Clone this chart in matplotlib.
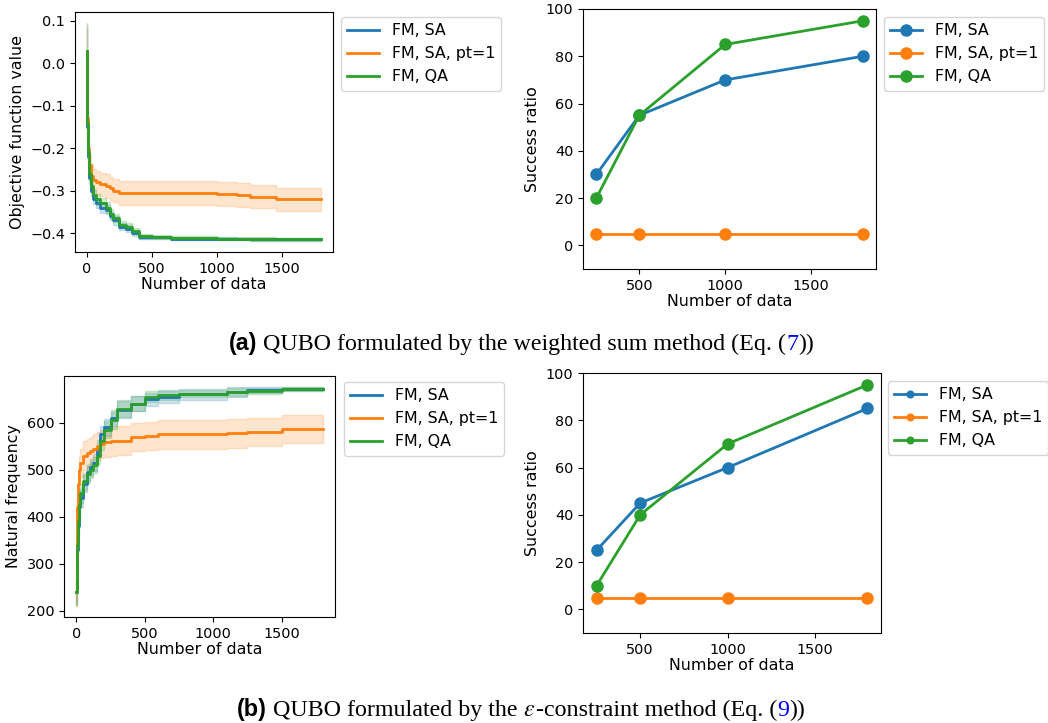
import matplotlib
matplotlib.use("Agg")
import matplotlib.pyplot as plt
import numpy as np

# ---- data ----
labels = ["FM, SA", "FM, SA, pt=1", "FM, QA"]
colors = ["#1f77b4", "#ff7f0e", "#2ca02c"]

# (a) objective function value vs number of data (step curves, mean and band half-width)
xa = [0, 5, 10, 20, 30, 50, 75, 100, 150, 175, 200, 250, 300, 350, 400, 500, 650, 1000, 1150, 1250, 1450, 1800]
obj_sa = [0.03, -0.15, -0.22, -0.27, -0.30, -0.32, -0.33, -0.34, -0.345, -0.36, -0.37, -0.385, -0.39,
          -0.40, -0.41, -0.41, -0.413, -0.413, -0.414, -0.415, -0.415, -0.415]
obj_pt = [0.03, -0.13, -0.20, -0.24, -0.265, -0.275, -0.28, -0.285, -0.29, -0.295, -0.30, -0.305, -0.305,
          -0.305, -0.305, -0.305, -0.305, -0.308, -0.31, -0.315, -0.32, -0.32]
obj_qa = [0.03, -0.14, -0.21, -0.26, -0.29, -0.31, -0.32, -0.33, -0.34, -0.355, -0.365, -0.38, -0.385,
          -0.395, -0.408, -0.41, -0.412, -0.413, -0.413, -0.414, -0.415, -0.415]
obj_sa_sd = [0.06, 0.03, 0.02, 0.015, 0.012, 0.012, 0.012, 0.012, 0.01, 0.01, 0.01, 0.008, 0.008,
             0.006, 0.005, 0.004, 0.004, 0.003, 0.003, 0.003, 0.003, 0.003]
obj_pt_sd = [0.05, 0.03, 0.025, 0.025, 0.027, 0.027, 0.027, 0.027, 0.028, 0.028, 0.028, 0.028, 0.028,
             0.028, 0.028, 0.028, 0.028, 0.028, 0.028, 0.027, 0.027, 0.027]
obj_qa_sd = [0.065, 0.03, 0.02, 0.015, 0.013, 0.013, 0.013, 0.012, 0.012, 0.011, 0.01, 0.009, 0.009,
             0.008, 0.006, 0.005, 0.005, 0.004, 0.004, 0.004, 0.004, 0.004]

# (b) natural frequency vs number of data
xb = [0, 5, 10, 20, 30, 50, 75, 100, 125, 150, 175, 200, 250, 300, 400, 500, 600, 750, 1100, 1250, 1500, 1800]
nf_sa = [240, 330, 380, 420, 440, 470, 495, 505, 515, 545, 575, 590, 610, 628, 640, 650, 655, 660, 665,
         670, 672, 672]
nf_pt = [240, 420, 470, 500, 515, 530, 535, 540, 545, 550, 555, 558, 560, 562, 570, 572, 575, 575, 577,
         580, 587, 587]
nf_qa = [240, 340, 390, 425, 450, 475, 490, 500, 510, 530, 560, 585, 605, 630, 640, 655, 658, 662, 665,
         668, 672, 672]
nf_sa_sd = [25, 25, 25, 22, 20, 18, 18, 18, 18, 18, 18, 18, 18, 18, 16, 14, 14, 12, 10, 6, 4, 3]
nf_pt_sd = [30, 30, 30, 30, 30, 30, 30, 30, 30, 30, 30, 30, 30, 30, 30, 30, 30, 30, 30, 30, 30, 30]
nf_qa_sd = [30, 25, 25, 22, 20, 18, 18, 18, 18, 18, 18, 18, 18, 18, 16, 12, 10, 8, 8, 6, 4, 3]

# success ratio
n_data = [250, 500, 1000, 1800]
succ_a_sa = [30, 55, 70, 80]
succ_a_pt = [5, 5, 5, 5]
succ_a_qa = [20, 55, 85, 95]
succ_b_sa = [25, 45, 60, 85]
succ_b_pt = [5, 5, 5, 5]
succ_b_qa = [10, 40, 70, 95]

TICK = 10.4
LAB = 11.4
CAP = 17.3

fig = plt.figure(figsize=(10.48, 7.23), dpi=100)
W, H = 1048, 723


def add_ax(l, t, r, b):
    return fig.add_axes([l / W, 1 - b / H, (r - l) / W, (b - t) / H])


def hist_panel(ax, x, means, sds, ylabel):
    for m, s, c, lab in zip(means, sds, colors, labels):
        m = np.array(m)
        s = np.array(s)
        ax.fill_between(x, m - s, m + s, step="post", color=c, alpha=0.2, linewidth=1)
        ax.plot(x, m, drawstyle="steps-post", color=c, linewidth=2, label=lab)
    ax.set_xlabel("Number of data", fontsize=LAB, labelpad=1)
    ax.set_ylabel(ylabel, fontsize=LAB)
    ax.tick_params(labelsize=TICK)
    ax.set_xticks([0, 500, 1000, 1500])


def succ_panel(ax, ys):
    for y, c, lab in zip(ys, colors, labels):
        ax.plot(n_data, y, "-o", color=c, linewidth=2, markersize=8, label=lab)
    ax.set_ylim(-10, 100)
    ax.set_xlabel("Number of data", fontsize=LAB, labelpad=1)
    ax.set_ylabel("Success ratio", fontsize=LAB)
    ax.tick_params(labelsize=TICK)
    ax.set_xticks([500, 1000, 1500])


def legend(ax, x, y, ms=1.0):
    ax.legend(loc="upper left", bbox_to_anchor=(x / W, 1 - y / H), bbox_transform=fig.transFigure,
              borderaxespad=0, fontsize=LAB, markerscale=ms)


ax1 = add_ax(75, 12, 333, 252)
hist_panel(ax1, xa, [obj_sa, obj_pt, obj_qa], [obj_sa_sd, obj_pt_sd, obj_qa_sd], "Objective function value")
legend(ax1, 341, 17)

ax2 = add_ax(583, 9, 876, 269)
succ_panel(ax2, [succ_a_sa, succ_a_pt, succ_a_qa])
legend(ax2, 884, 17)

ax3 = add_ax(64, 376, 335, 617)
hist_panel(ax3, xb, [nf_sa, nf_pt, nf_qa], [nf_sa_sd, nf_pt_sd, nf_qa_sd], "Natural frequency")
ax3.set_yticks([200, 300, 400, 500, 600])
legend(ax3, 344, 382)

ax4 = add_ax(583, 373, 881, 633)
succ_panel(ax4, [succ_b_sa, succ_b_pt, succ_b_qa])
legend(ax4, 888, 381, ms=0.6)


def chain(x, y, tag, parts):
    # caption pieces placed one after another
    prev = fig.text(x / W, 1 - y / H, tag, fontsize=CAP - 0.5, fontweight="bold", family="Liberation Sans",
                    va="baseline")
    for txt, col in parts:
        prev = plt.annotate(txt, xy=(1, 0), xycoords=prev, xytext=(0, 0), textcoords="offset points",
                            fontsize=CAP, family="Liberation Serif", color=col, va="bottom", ha="left",
                            annotation_clip=False)


chain(229, 350, "(a)", [(" QUBO formulated by the weighted sum method (Eq. (", "black"), ("7", "blue"),
                        ("))", "black")])
plt.rcParams["mathtext.fontset"] = "stix"
chain(237, 716, "(b)", [(" QUBO formulated by the ", "black"), ("$\\varepsilon$", "black"),
                        ("-constraint method (Eq. (", "black"), ("9", "blue"), ("))", "black")])

fig.savefig("out.png", dpi=100)
